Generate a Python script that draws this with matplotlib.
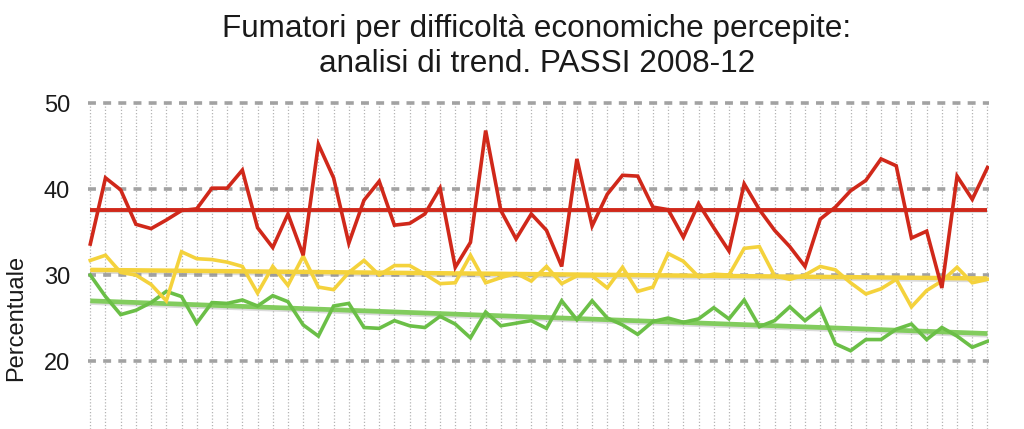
import matplotlib
matplotlib.use("Agg")
import matplotlib.pyplot as plt
import matplotlib.patheffects as pe
import numpy as np

title_lines = ["Fumatori per difficoltà economiche percepite:",
               "analisi di trend. PASSI 2008-12"]
y_label = "Percentuale"
y_ticks = [20, 30, 40, 50]

# monthly values 2008-2012 (60 months)
red = [33.6, 41.3, 39.9, 35.9, 35.4, 36.4, 37.5, 37.7, 40.1, 40.1,
       42.2, 35.5, 33.2, 37.1, 32.3, 45.2, 41.3, 33.7, 38.7, 40.9,
       35.8, 36.0, 37.1, 40.1, 30.9, 33.8, 46.8, 37.5, 34.2, 37.1,
       35.2, 31.0, 43.5, 35.7, 39.4, 41.6, 41.5, 37.9, 37.6, 34.4,
       38.3, 35.5, 32.8, 40.6, 37.6, 35.2, 33.3, 31.0, 36.5, 37.9,
       39.8, 41.0, 43.5, 42.7, 34.3, 35.1, 28.5, 41.5, 38.8, 42.5]
yellow = [31.7, 32.3, 30.3, 30.0, 28.9, 27.0, 32.7, 31.9, 31.8, 31.5,
          31.0, 27.9, 31.0, 28.8, 32.2, 28.6, 28.3, 30.3, 31.7, 30.0,
          31.1, 31.1, 30.1, 29.0, 29.1, 32.3, 29.1, 29.7, 30.2, 29.3,
          31.0, 29.0, 29.9, 29.9, 28.5, 30.9, 28.1, 28.6, 32.5, 31.6,
          29.8, 30.1, 30.0, 33.1, 33.3, 29.9, 29.5, 30.0, 31.0, 30.6,
          29.1, 27.8, 28.4, 29.5, 26.3, 28.2, 29.3, 30.9, 29.1, 29.5]
green = [30.0, 27.5, 25.4, 25.9, 26.8, 28.1, 27.5, 24.4, 26.8, 26.7,
         27.1, 26.4, 27.6, 26.9, 24.2, 22.9, 26.4, 26.7, 23.9, 23.8,
         24.7, 24.1, 23.9, 25.2, 24.3, 22.7, 25.7, 24.1, 24.4, 24.7,
         23.8, 27.0, 24.8, 27.0, 25.0, 24.2, 23.1, 24.6, 25.0, 24.5,
         24.9, 26.2, 24.9, 27.1, 24.0, 24.7, 26.3, 24.7, 26.1, 22.0,
         21.2, 22.5, 22.5, 23.7, 24.3, 22.5, 23.9, 22.9, 21.6, 22.3]

# trend lines: (start, end) values
red_trend = [37.6, 37.6]
yellow_trend = [30.6, 29.6]
green_trend = [27.0, 23.2]

months = np.arange(len(red))

RED = "#d0281a"
YEL = "#f4d23c"
GRN = "#6bbf47"
GRN_T = "#82cc5e"

plt.rcParams['font.family'] = ['Liberation Sans', 'DejaVu Sans']

fig = plt.figure(figsize=(10.24, 4.29), dpi=100)
ax = fig.add_axes([88 / 1024, 0.0, (989 - 88) / 1024, (429 - 101.3) / 429])
ax.set_xlim(-0.15, len(red) - 1 + 0.1)
ax.set_ylim(12.1, 50.2)

# grid
for m in months:
    ax.axvline(m, color="#b4b4b4", lw=0.9, linestyle=(0, (1, 1.6)), zorder=1)
for t in y_ticks:
    ax.axhline(t, color="#a2a2a2", lw=2.6, linestyle=(0, (2.2, 2.0)), zorder=1)

shadow = [pe.SimpleLineShadow(offset=(0, -1.2), shadow_color="#888888", alpha=0.3), pe.Normal()]
xt = [months[0], months[-1]]
ax.plot(xt, green_trend, color=GRN_T, lw=3.4, zorder=3, path_effects=shadow, solid_capstyle="butt")
ax.plot(xt, yellow_trend, color=YEL, lw=3.2, zorder=3, path_effects=shadow, solid_capstyle="butt")
ax.plot(xt, red_trend, color=RED, lw=2.8, zorder=3, path_effects=shadow, solid_capstyle="butt")

ax.plot(months, green, color=GRN, lw=2.6, zorder=4, solid_joinstyle="miter")
ax.plot(months, yellow, color=YEL, lw=2.6, zorder=4, solid_joinstyle="miter")
ax.plot(months, red, color=RED, lw=2.6, zorder=5, solid_joinstyle="miter")

ax.set_yticks(y_ticks)
ax.set_yticklabels([str(t) for t in y_ticks], fontsize=17, color="#1a1a1a")
ax.set_xticks([])
ax.tick_params(axis="y", length=0, pad=13)
for s in ax.spines.values():
    s.set_visible(False)

fig.text(16 / 1024, 1 - 317.5 / 429, y_label, rotation=90, ha="center", va="center", fontsize=17, color="#1a1a1a")
fig.text(537 / 1024, 1 - 37 / 429, title_lines[0], ha="center", va="baseline", fontsize=22.7, color="#1a1a1a")
fig.text(537 / 1024, 1 - 72 / 429, title_lines[1], ha="center", va="baseline", fontsize=22.7, color="#1a1a1a")

fig.savefig("out.png", dpi=100)
